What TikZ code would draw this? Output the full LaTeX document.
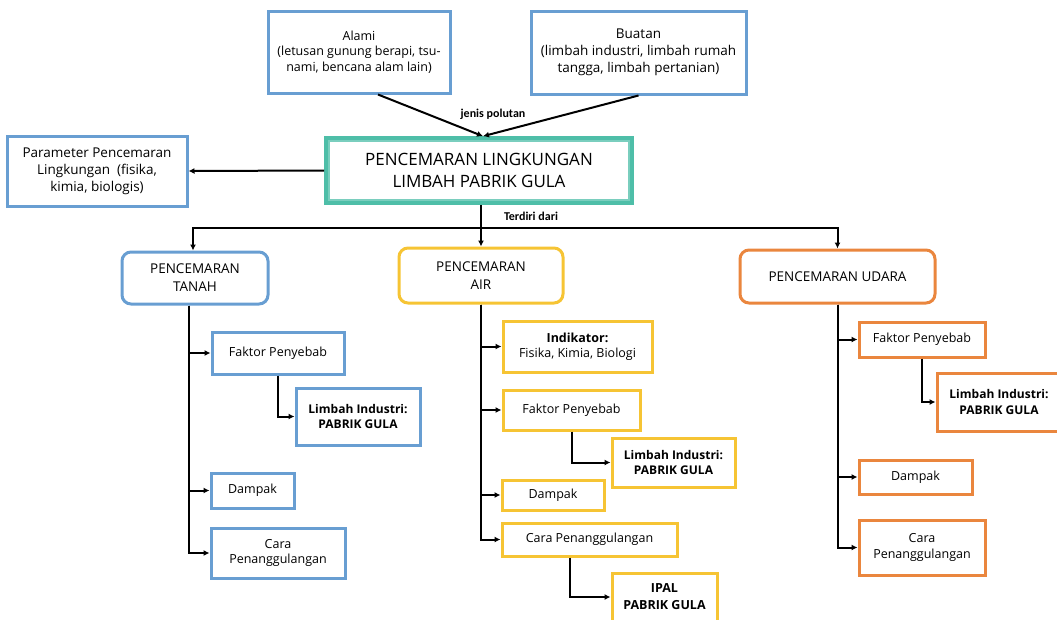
\documentclass[tikz,border=0pt]{standalone}
\usepackage{fontspec}
\setmainfont{Open Sans}
\newfontfamily\labelfont{Carlito}
\usetikzlibrary{arrows.meta,positioning}

\definecolor{boxblue}{RGB}{104,158,210}
\definecolor{boxyellow}{RGB}{246,196,52}
\definecolor{boxorange}{RGB}{234,134,62}
\definecolor{boxteal}{RGB}{78,190,168}

\begin{document}
\begin{tikzpicture}[
    x=1pt, y=-1pt,
    font=\fontsize{12.5}{15.5}\selectfont,
    box/.style={rectangle, draw, line width=3pt, align=center, inner sep=2pt},
    bluebox/.style={box, draw=boxblue},
    yellowbox/.style={box, draw=boxyellow},
    orangebox/.style={box, draw=boxorange},
    topic/.style={rounded corners=9pt, font=\fontsize{13.5}{18}\selectfont},
    arrow/.style={-{Latex[length=6pt,width=6pt]}, line width=2pt},
    line/.style={line width=2pt},
    tag/.style={font=\labelfont\bfseries\fontsize{12}{14}\selectfont}
]
\useasboundingbox (0,0) rectangle (1057,619);

% Sumber polutan
\node[bluebox, minimum width=182, minimum height=82] at (359,52) (alami) {Alami\\(letusan gunung berapi, tsu-\\nami, bencana alam lain)};
\node[bluebox, minimum width=215, minimum height=83, font=\fontsize{13.5}{17}\selectfont] at (638.5,52.5) (buatan) {Buatan\\(limbah industri, limbah rumah\\tangga, limbah pertanian)};

% Pusat
\node[box, draw=boxteal, line width=3.6pt, minimum width=306, minimum height=65, font=\fontsize{17}{22}\selectfont] at (479,170.5) (central) {PENCEMARAN LINGKUNGAN\\LIMBAH PABRIK GULA};
\draw[boxteal!75, line width=1.6pt] ([xshift=5,yshift=-5]central.north west) rectangle ([xshift=-5,yshift=5]central.south east);
\node[bluebox, minimum width=180, minimum height=70, font=\fontsize{13.5}{17}\selectfont] at (97,171) (param) {Parameter Pencemaran\\Lingkungan~ (fisika,\\kimia, biologis)};

% Jenis pencemaran
\node[bluebox, topic, minimum width=146, minimum height=52] at (195,278) (tanah) {PENCEMARAN\\TANAH};
\node[yellowbox, topic, minimum width=164, minimum height=55] at (481,275.5) (air) {PENCEMARAN\\AIR};
\node[orangebox, topic, minimum width=195, minimum height=53] at (837.5,276.5) (udara) {PENCEMARAN UDARA};

% Tanah
\node[bluebox, minimum width=132, minimum height=42] at (278,353) (faktorT) {Faktor Penyebab};
\node[bluebox, minimum width=124, minimum height=57, font=\bfseries\fontsize{12}{15.5}\selectfont] at (358,416.5) (limbahT) {Limbah Industri:\\PABRIK GULA};
\node[bluebox, minimum width=83, minimum height=35] at (252.5,490.5) (dampakT) {Dampak};
\node[bluebox, minimum width=134, minimum height=50] at (278,553) (caraT) {Cara\\Penanggulangan};

% Air
\node[yellowbox, minimum width=149, minimum height=51] at (577.5,346.5) (indikator) {\textbf{Indikator:}\\Fisika, Kimia, Biologi};
\node[yellowbox, minimum width=137, minimum height=40] at (571.5,410) (faktorA) {Faktor Penyebab};
\node[yellowbox, minimum width=123, minimum height=49, font=\bfseries\fontsize{12}{15.5}\selectfont] at (673.5,462.5) (limbahA) {Limbah Industri:\\PABRIK GULA};
\node[yellowbox, minimum width=102, minimum height=30] at (553,495) (dampakA) {Dampak};
\node[yellowbox, minimum width=175, minimum height=33] at (589.5,539.5) (caraA) {Cara Penanggulangan};
\node[yellowbox, minimum width=105, minimum height=48, font=\bfseries\fontsize{12.5}{17}\selectfont] at (664.5,597) (ipal) {IPAL\\PABRIK GULA};

% Udara
\node[orangebox, minimum width=126, minimum height=35] at (922,339.5) (faktorU) {Faktor Penyebab};
\node[orangebox, minimum width=124, minimum height=58, font=\bfseries\fontsize{12}{15.5}\selectfont] at (999,402) (limbahU) {Limbah Industri:\\PABRIK GULA};
\node[orangebox, minimum width=113, minimum height=34] at (915.5,477) (dampakU) {Dampak};
\node[orangebox, minimum width=126, minimum height=55] at (922,547.5) (caraU) {Cara\\Penanggulangan};

% Panah atas
\draw[arrow] ([xshift=19]alami.south) -- ([xshift=4]central.north);
\draw[arrow] (buatan.south) -- ([xshift=4]central.north);
\node[tag] at (493,114) (jenis) {jenis polutan};
\draw[arrow] (central.west) -- (param.east);

% Cabang utama
\coordinate (split) at (481,228);
\draw[line] ([xshift=2]central.south) -- (split);
\draw[arrow] (split) -| ([xshift=-2]tanah.north);
\draw[arrow] (split) -- (air.north);
\draw[arrow] (split) -| (udara.north);
\node[tag] at (531,216) (terdiri) {Terdiri dari};

% Cabang tanah
\draw[arrow] ([xshift=-6]tanah.south) |- (faktorT);
\draw[arrow] ([xshift=-6]tanah.south) |- (dampakT);
\draw[arrow] ([xshift=-6]tanah.south) |- (caraT);
\draw[arrow] (faktorT.south) |- (limbahT);

% Cabang air
\draw[arrow] (air.south) |- (indikator);
\draw[arrow] (air.south) |- (faktorA);
\draw[arrow] (air.south) |- (dampakA);
\draw[arrow] (air.south) |- (caraA);
\draw[arrow] (faktorA.south) |- (limbahA);
\draw[arrow] ([xshift=-20]caraA.south) |- (ipal);

% Cabang udara
\draw[arrow] (udara.south) |- (faktorU);
\draw[arrow] (udara.south) |- (dampakU);
\draw[arrow] (udara.south) |- (caraU);
\draw[arrow] (faktorU.south) |- (limbahU);

\end{tikzpicture}
\end{document}
